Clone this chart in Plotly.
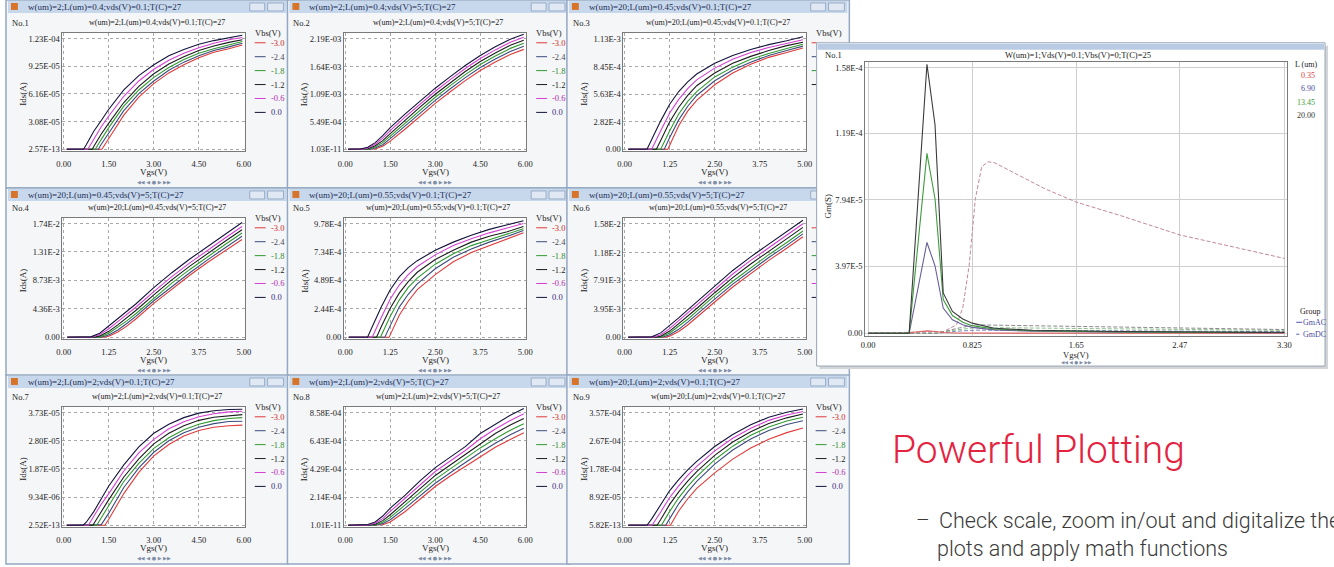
import plotly.graph_objects as go

W, H = 1334, 567
SERIF = "Liberation Serif"
SANS = "Liberation Sans"

# ---------------- data: 9 Ids-Vgs panels ----------------
vbs_labels = ["-3.0", "-2.4", "-1.8", "-1.2", "-0.6", "0.0"]
grid6 = [0.1, 0.5, 0.75, 1.0, 1.25, 1.5, 2.0, 2.5, 3.0, 3.5, 4.0, 4.5, 5.0, 5.5, 5.95]
grid5 = [0.1, 0.5, 0.75, 1.0, 1.25, 1.5, 1.75, 2.0, 2.5, 3.0, 3.5, 4.0, 4.5, 4.95]

p1_title = "w(um)=2;L(um)=0.4;vds(V)=0.1;T(C)=27"
p1_xticks = ["0.00", "1.50", "3.00", "4.50", "6.00"]
p1_yticks = ["2.57E-13", "3.08E-05", "6.16E-05", "9.25E-05", "1.23E-04"]
p1_unit = 1e-5
p1_vt = [1.27, 1.15, 1.05, 0.95, 0.80, 0.66]
p1_ids = [
    [0, 0, 0, 0, 0, 1.2, 3.8, 5.8, 7.3, 8.5, 9.4, 10.2, 10.8, 11.2, 11.6],
    [0, 0, 0, 0, 0.55, 1.8, 4.3, 6.2, 7.6, 8.8, 9.7, 10.4, 11.0, 11.4, 11.8],
    [0, 0, 0, 0, 1.1, 2.4, 4.8, 6.6, 8.0, 9.1, 10.0, 10.7, 11.2, 11.65, 12.0],
    [0, 0, 0, 0.3, 1.7, 2.9, 5.2, 7.0, 8.4, 9.5, 10.3, 11.0, 11.5, 11.9, 12.2],
    [0, 0, 0, 1.1, 2.5, 3.7, 5.9, 7.6, 8.9, 9.9, 10.7, 11.3, 11.8, 12.2, 12.45],
    [0, 0, 0.5, 2.0, 3.2, 4.45, 6.6, 8.2, 9.4, 10.4, 11.1, 11.7, 12.1, 12.45, 12.7],
]

p2_title = "w(um)=2;L(um)=0.4;vds(V)=5;T(C)=27"
p2_xticks = ["0.00", "1.50", "3.00", "4.50", "6.00"]
p2_yticks = ["1.03E-11", "5.49E-04", "1.09E-03", "1.64E-03", "2.19E-03"]
p2_unit = 1e-4
p2_vt = [0.95, 0.85, 0.75, 0.65, 0.55, 0.45]
p2_ids = [
    [0, 0, 0, 0.05, 0.6, 1.6, 4.0, 6.6, 9.1, 11.4, 13.6, 15.6, 17.3, 18.8, 19.8],
    [0, 0, 0, 0.25, 0.9, 2.1, 4.6, 7.2, 9.7, 12.0, 14.2, 16.2, 17.9, 19.4, 20.4],
    [0, 0, 0, 0.45, 1.3, 2.6, 5.2, 7.8, 10.3, 12.6, 14.8, 16.8, 18.5, 20.0, 21.0],
    [0, 0, 0.1, 0.7, 1.7, 3.1, 5.8, 8.4, 10.9, 13.2, 15.4, 17.4, 19.1, 20.6, 21.6],
    [0, 0, 0.25, 1.0, 2.2, 3.7, 6.4, 9.0, 11.5, 13.8, 16.0, 18.0, 19.7, 21.2, 22.2],
    [0, 0.05, 0.4, 1.3, 2.7, 4.3, 7.0, 9.6, 12.1, 14.4, 16.6, 18.6, 20.3, 21.8, 22.8],
]

p3_title = "w(um)=20;L(um)=0.45;vds(V)=0.1;T(C)=27"
p3_xticks = ["0.00", "1.25", "2.50", "3.75", "5.00"]
p3_yticks = ["0.00", "2.82E-4", "5.63E-4", "8.45E-4", "1.13E-3"]
p3_unit = 1e-4
p3_vt = [1.2, 1.1, 1.0, 0.88, 0.75, 0.62]
p3_ids = [
    [0, 0, 0, 0, 0.4, 2.4, 3.9, 5.0, 6.6, 7.8, 8.7, 9.4, 9.9, 10.35],
    [0, 0, 0, 0, 1.2, 3.0, 4.4, 5.5, 7.0, 8.1, 8.9, 9.6, 10.1, 10.55],
    [0, 0, 0, 0, 1.9, 3.6, 4.9, 5.9, 7.4, 8.4, 9.2, 9.8, 10.3, 10.75],
    [0, 0, 0, 0.9, 2.8, 4.3, 5.5, 6.5, 7.8, 8.8, 9.5, 10.1, 10.6, 10.95],
    [0, 0, 0, 1.9, 3.7, 5.1, 6.2, 7.1, 8.3, 9.2, 9.9, 10.4, 10.85, 11.2],
    [0, 0, 1.0, 2.9, 4.6, 5.9, 6.9, 7.7, 8.8, 9.6, 10.2, 10.7, 11.1, 11.5],
]

p4_title = "w(um)=20;L(um)=0.45;vds(V)=5;T(C)=27"
p4_xticks = ["0.00", "1.25", "2.50", "3.75", "5.00"]
p4_yticks = ["0.00", "4.36E-3", "8.73E-3", "1.31E-2", "1.74E-2"]
p4_unit = 1e-3
p4_vt = [1.1, 1.03, 0.95, 0.86, 0.77, 0.68]
p4_ids = [
    [0, 0, 0, 0, 0.15, 0.8, 1.7, 2.8, 5.2, 7.4, 9.5, 11.5, 13.3, 15.0],
    [0, 0, 0, 0, 0.35, 1.1, 2.1, 3.2, 5.6, 7.8, 9.9, 11.9, 13.8, 15.5],
    [0, 0, 0, 0.05, 0.6, 1.5, 2.5, 3.6, 6.0, 8.3, 10.4, 12.4, 14.3, 16.0],
    [0, 0, 0, 0.2, 0.9, 1.9, 3.0, 4.1, 6.5, 8.8, 10.9, 12.9, 14.8, 16.5],
    [0, 0, 0, 0.4, 1.3, 2.4, 3.5, 4.6, 7.0, 9.3, 11.4, 13.4, 15.3, 17.0],
    [0, 0, 0.05, 0.6, 1.7, 2.8, 4.0, 5.1, 7.6, 9.9, 12.0, 13.9, 15.8, 17.6],
]

p5_title = "w(um)=20;L(um)=0.55;vds(V)=0.1;T(C)=27"
p5_xticks = ["0.00", "1.25", "2.50", "3.75", "5.00"]
p5_yticks = ["0.00", "2.44E-4", "4.89E-4", "7.34E-4", "9.78E-4"]
p5_unit = 1e-4
p5_vt = [1.22, 1.1, 0.98, 0.87, 0.75, 0.62]
p5_ids = [
    [0, 0, 0, 0, 0.2, 1.9, 3.1, 4.1, 5.4, 6.5, 7.3, 7.9, 8.5, 9.0],
    [0, 0, 0, 0, 1.0, 2.6, 3.7, 4.6, 5.9, 6.9, 7.6, 8.2, 8.7, 9.2],
    [0, 0, 0, 0.15, 1.8, 3.2, 4.3, 5.1, 6.3, 7.2, 7.9, 8.4, 8.9, 9.35],
    [0, 0, 0, 0.9, 2.5, 3.8, 4.8, 5.6, 6.7, 7.5, 8.2, 8.7, 9.1, 9.55],
    [0, 0, 0, 1.7, 3.3, 4.5, 5.4, 6.1, 7.1, 7.9, 8.5, 9.0, 9.4, 9.8],
    [0, 0, 0.9, 2.6, 4.1, 5.2, 6.0, 6.6, 7.5, 8.2, 8.8, 9.3, 9.7, 10.05],
]

p6_title = "w(um)=20;L(um)=0.55;vds(V)=5;T(C)=27"
p6_xticks = ["0.00", "1.25", "2.50", "3.75", "5.00"]
p6_yticks = ["0.00", "3.95E-3", "7.91E-3", "1.18E-2", "1.58E-2"]
p6_unit = 1e-3
p6_vt = [1.12, 1.04, 0.96, 0.87, 0.78, 0.7]
p6_ids = [
    [0, 0, 0, 0, 0.15, 0.8, 1.7, 2.8, 4.9, 7.0, 8.9, 10.7, 12.4, 14.0],
    [0, 0, 0, 0, 0.35, 1.1, 2.1, 3.2, 5.3, 7.4, 9.3, 11.1, 12.8, 14.4],
    [0, 0, 0, 0.02, 0.6, 1.5, 2.5, 3.6, 5.8, 7.8, 9.7, 11.5, 13.2, 14.8],
    [0, 0, 0, 0.15, 0.85, 1.9, 2.9, 4.0, 6.2, 8.3, 10.2, 12.0, 13.7, 15.3],
    [0, 0, 0, 0.35, 1.2, 2.3, 3.4, 4.4, 6.7, 8.8, 10.7, 12.5, 14.2, 15.8],
    [0, 0, 0.05, 0.6, 1.6, 2.7, 3.8, 4.9, 7.2, 9.3, 11.2, 13.0, 14.7, 16.3],
]

p7_title = "w(um)=2;L(um)=2;vds(V)=0.1;T(C)=27"
p7_xticks = ["0.00", "1.50", "3.00", "4.50", "6.00"]
p7_yticks = ["2.52E-13", "9.34E-06", "1.87E-05", "2.80E-05", "3.73E-05"]
p7_unit = 1e-5
p7_vt = [1.37, 1.24, 1.1, 0.97, 0.82, 0.65]
p7_ids = [
    [0, 0, 0, 0, 0, 0.2, 1.05, 1.75, 2.3, 2.68, 2.96, 3.14, 3.25, 3.3, 3.32],
    [0, 0, 0, 0, 0.02, 0.4, 1.25, 1.9, 2.42, 2.8, 3.07, 3.25, 3.37, 3.44, 3.45],
    [0, 0, 0, 0, 0.25, 0.65, 1.45, 2.05, 2.55, 2.9, 3.17, 3.35, 3.47, 3.54, 3.57],
    [0, 0, 0, 0.05, 0.45, 0.85, 1.6, 2.2, 2.7, 3.05, 3.3, 3.48, 3.58, 3.64, 3.67],
    [0, 0, 0, 0.3, 0.7, 1.05, 1.8, 2.4, 2.85, 3.2, 3.43, 3.6, 3.7, 3.76, 3.78],
    [0, 0, 0.1, 0.45, 0.88, 1.3, 2.0, 2.6, 3.05, 3.35, 3.57, 3.72, 3.8, 3.84, 3.85],
]

p8_title = "w(um)=2;L(um)=2;vds(V)=5;T(C)=27"
p8_xticks = ["0.00", "1.50", "3.00", "4.50", "6.00"]
p8_yticks = ["1.01E-11", "2.14E-04", "4.29E-04", "6.43E-04", "8.58E-04"]
p8_unit = 1e-4
p8_vt = [1.12, 1.0, 0.88, 0.75, 0.62, 0.5]
p8_ids = [
    [0, 0, 0, 0, 0.04, 0.25, 1.05, 2.0, 2.95, 3.75, 4.5, 5.25, 5.95, 6.55, 7.05],
    [0, 0, 0, 0, 0.12, 0.42, 1.3, 2.25, 3.2, 4.0, 4.8, 5.55, 6.25, 6.9, 7.4],
    [0, 0, 0, 0.02, 0.22, 0.6, 1.55, 2.5, 3.5, 4.3, 5.1, 5.9, 6.6, 7.25, 7.75],
    [0, 0, 0, 0.07, 0.35, 0.8, 1.8, 2.8, 3.8, 4.6, 5.4, 6.25, 7.0, 7.65, 8.15],
    [0, 0, 0.02, 0.15, 0.5, 1.05, 2.05, 3.1, 4.1, 4.9, 5.7, 6.6, 7.35, 8.0, 8.5],
    [0, 0, 0.05, 0.25, 0.7, 1.3, 2.3, 3.4, 4.4, 5.2, 6.0, 7.0, 7.7, 8.4, 8.9],
]

p9_title = "w(um)=20;L(um)=2;vds(V)=0.1;T(C)=27"
p9_xticks = ["0.00", "1.25", "2.50", "3.75", "5.00"]
p9_yticks = ["5.82E-13", "8.92E-05", "1.78E-04", "2.67E-04", "3.57E-04"]
p9_unit = 1e-5
p9_vt = [1.27, 1.14, 1.02, 0.9, 0.76, 0.62]
p9_ids = [
    [0, 0, 0, 0, 0, 4.5, 8.4, 11.7, 16.6, 21.0, 24.5, 27.3, 29.4, 30.9],
    [0, 0, 0, 0, 2.1, 6.8, 10.6, 13.9, 19.4, 23.9, 27.4, 30.1, 32.0, 33.2],
    [0, 0, 0, 0, 4.4, 8.7, 12.3, 15.4, 20.8, 25.1, 28.6, 31.2, 33.1, 34.3],
    [0, 0, 0, 1.8, 6.6, 10.6, 14.0, 17.0, 22.2, 26.4, 29.7, 32.3, 34.1, 35.3],
    [0, 0, 0, 4.2, 8.8, 12.5, 15.8, 18.7, 23.6, 27.6, 30.8, 33.3, 35.0, 36.1],
    [0, 0, 2.0, 6.5, 11.0, 14.5, 17.6, 20.3, 25.0, 28.8, 31.9, 34.3, 35.9, 36.9],
]

# ---------------- data: Gm panel ----------------
gm_title = "W(um)=1;Vds(V)=0.1;Vbs(V)=0;T(C)=25"
gm_L = ["0.35", "6.90", "13.45", "20.00"]
gm_xticks = ["0.00", "0.825", "1.65", "2.47", "3.30"]
gm_yticks = ["0.00", "3.97E-5", "7.94E-5", "1.19E-4", "1.58E-4"]
gm_unit = 1e-5
gmac_x_035 = [0, 0.30, 0.36, 0.42, 0.47, 0.53, 0.6, 0.7, 3.3]
gmac_y_035 = [0, 0, 0.06, 0.12, 0.14, 0.1, 0.04, 0.01, 0.0]
gmac_x = [0, 0.325, 0.466, 0.53, 0.595, 0.668, 0.75, 0.825, 1.0, 1.3, 2.0, 3.3]
gmac_y_690 = [0, 0, 5.4, 4.0, 1.5, 0.8, 0.5, 0.35, 0.2, 0.12, 0.06, 0.03]
gmac_y_1345 = [0, 0, 10.7, 8.0, 2.0, 1.05, 0.65, 0.45, 0.25, 0.15, 0.08, 0.04]
gmac_y_2000 = [0, 0, 16.0, 12.4, 2.4, 1.3, 0.85, 0.6, 0.3, 0.18, 0.1, 0.05]
gmdc_x_035 = [0, 0.6, 0.7, 0.75, 0.8, 0.85, 0.9, 0.95, 1.0, 1.2, 1.4, 1.65, 2.0, 2.47, 3.0, 3.3]
gmdc_y_035 = [0, 0.1, 0.5, 1.5, 4.0, 8.0, 9.9, 10.2, 10.15, 9.35, 8.6, 7.8, 7.0, 5.85, 4.95, 4.45]
gmdc_x = [0, 0.55, 0.7, 0.85, 1.0, 1.65, 2.47, 3.3]
gmdc_y_690 = [0, 0, 0.12, 0.18, 0.18, 0.15, 0.12, 0.09]
gmdc_y_1345 = [0, 0, 0.2, 0.33, 0.33, 0.28, 0.22, 0.17]
gmdc_y_2000 = [0, 0, 0.28, 0.5, 0.48, 0.4, 0.3, 0.22]

# ---------------- styling ----------------
SER_COLORS = ["#e03a3a", "#3c4c7c", "#2f9a2f", "#1c1c1c", "#d43fd4", "#14143c"]
LEG_TEXT = ["#cc2a2a", "#4a4a5a", "#2f8a2f", "#1c1c1c", "#b02cb0", "#3a2a80"]
GM_COLORS = ["#e06060", "#6a5f9a", "#3d9a3d", "#3a3a3a"]
GMDC_COLORS = ["#c08898", "#7a86c0", "#8cc08c", "#8a8a8a"]
GM_TEXT = ["#d04040", "#4a4aa0", "#3a9a3a", "#333333"]

panels = [
    (p1_title, p1_xticks, p1_yticks, p1_unit, p1_vt, p1_ids, grid6),
    (p2_title, p2_xticks, p2_yticks, p2_unit, p2_vt, p2_ids, grid6),
    (p3_title, p3_xticks, p3_yticks, p3_unit, p3_vt, p3_ids, grid5),
    (p4_title, p4_xticks, p4_yticks, p4_unit, p4_vt, p4_ids, grid5),
    (p5_title, p5_xticks, p5_yticks, p5_unit, p5_vt, p5_ids, grid5),
    (p6_title, p6_xticks, p6_yticks, p6_unit, p6_vt, p6_ids, grid5),
    (p7_title, p7_xticks, p7_yticks, p7_unit, p7_vt, p7_ids, grid6),
    (p8_title, p8_xticks, p8_yticks, p8_unit, p8_vt, p8_ids, grid6),
    (p9_title, p9_xticks, p9_yticks, p9_unit, p9_vt, p9_ids, grid5),
]

COL_X = [0, 284, 566]
ROW_Y = [0, 189, 377]
ROW_TT = [39, 225, 415]
ROW_TB = [150, 339, 528]

shapes, anns, traces = [], [], []
layout_axes = {}


def px(x):
    return x / W


def py(y):
    return 1 - y / H


def rect(x0, y0, x1, y1, fill, line=None, lw=0, layer="below"):
    shapes.append(dict(type="rect", xref="paper", yref="paper", x0=px(x0), x1=px(x1),
                       y0=py(y1), y1=py(y0), fillcolor=fill,
                       line=dict(color=line or fill, width=lw), layer=layer))


def seg(x0, x1, y, color, width=1, dash="solid"):
    shapes.append(dict(type="line", xref="paper", yref="paper", x0=px(x0), x1=px(x1),
                       y0=py(y), y1=py(y), line=dict(color=color, width=width, dash=dash),
                       layer="below"))


def text(x, y, s, size=8.5, color="#222", xanchor="center", family=SERIF, angle=0, weight=None):
    f = dict(family=family, size=size, color=color)
    if weight:
        f["weight"] = weight
    anns.append(dict(x=px(x), y=py(y), xref="paper", yref="paper", text=s, showarrow=False,
                     xanchor=xanchor, yanchor="middle", font=f, textangle=angle))


def axis_style(grid_dash="dot", grid_color="#a8a8a8"):
    return dict(showgrid=True, gridcolor=grid_color, griddash=grid_dash, gridwidth=1,
                zeroline=False, showline=True, mirror=True, linecolor="#7a7a7a", linewidth=1,
                tickfont=dict(family=SERIF, size=8.5, color="#222"), fixedrange=True)


NAV = "◀◀ ◀ ● ▶ ▶▶"

# window frames first (in drawing order)
for i in range(9):
    r, c = divmod(i, 3)
    X0, Y0 = COL_X[c], ROW_Y[r]
    Y1 = Y0 + 189 if r < 2 else H
    rect(X0, Y0, X0 + 285, Y1, "#f5f6f8", "#93a8c2", 1.5)
    rect(X0 + 2, Y0 + 1, X0 + 283, Y0 + 13, "#c7d8ed")
    rect(X0 + 5, Y0 + 3, X0 + 12, Y0 + 10, "#d8742a")
    rect(X0 + 246, Y0 + 3, X0 + 261, Y0 + 11, "#dfe8f3", "#8da2bc", 0.8)
    rect(X0 + 264, Y0 + 3, X0 + 280, Y0 + 11, "#dfe8f3", "#8da2bc", 0.8)
    rect(X0 + 57, ROW_TT[r] - 6, X0 + 241, ROW_TB[r] + 2, "#ffffff")

for i, (title, xt, yt, unit, vts, ids, grid) in enumerate(panels):
    r, c = divmod(i, 3)
    X0, Y0 = COL_X[c], ROW_Y[r]
    TT, TB = ROW_TT[r], ROW_TB[r]
    k = i + 1
    sfx = "" if k == 1 else str(k)
    xv = [float(t) for t in xt]
    yv = [float(t) for t in yt]
    xmax = xv[-1]
    ymin, ymax = yv[0], yv[-1]
    span_px = TB - TT
    yr = [ymin - 2 / span_px * (ymax - ymin), ymax + 6 / span_px * (ymax - ymin)]
    xr = [-1.3 / 182 * xmax, xmax + 1 / 182 * xmax]
    xa = axis_style()
    xa.update(domain=[px(X0 + 57), px(X0 + 241)], range=xr, tickvals=xv, ticktext=xt,
              anchor="y" + sfx, ticks="outside", ticklen=5, tickcolor="rgba(0,0,0,0)")
    ya = axis_style()
    ya.update(domain=[py(TB + 2), py(TT - 6)], range=yr, tickvals=yv, ticktext=yt,
              anchor="x" + sfx, ticks="")
    layout_axes["xaxis" + sfx] = xa
    layout_axes["yaxis" + sfx] = ya
    for j in range(6):
        xs, ys = [], []
        done = False
        for g, v in zip(grid, ids[j]):
            if not done and g > vts[j]:
                xs.append(vts[j]); ys.append(0.0); done = True
            xs.append(g); ys.append(v * unit)
        traces.append(go.Scatter(x=xs, y=ys, mode="lines", xaxis="x" + sfx, yaxis="y" + sfx,
                                 line=dict(color=SER_COLORS[j], width=1.1), hoverinfo="skip",
                                 showlegend=False))
    # texts
    text(X0 + 20, Y0 + 7, title, size=9, color="#1f2f55", xanchor="left")
    text(X0 + 4, TT - 16, "No.%d" % k, xanchor="left")
    text(X0 + 152, TT - 16, title, size=8)
    text(X0 + 149, TB + 23, "Vgs(V)", size=9)
    text(X0 + 149, TB + 33, NAV, size=5, color="#7f8ea6", family="DejaVu Sans")
    text(X0 + 17, (TT + TB) / 2, "Ids(A)", size=9, angle=-90)
    if i != 5:
        text(X0 + 264, TT - 6, "Vbs(V)")
    if c < 2 or r == 2:
        for j in range(6):
            yy = TT + 4 + 14 * j
            seg(X0 + 251, X0 + 262, yy, SER_COLORS[j], 1)
            text(X0 + 265, yy, vbs_labels[j], color=LEG_TEXT[j], xanchor="left")
    else:
        for j in range(6 if r == 1 else 4):
            yy = TT + 4 + 14 * j
            if yy >= 43:
                seg(813, 818, yy, SER_COLORS[j], 1)

# ---------------- big Gm window ----------------
rect(821, 46, 1334, 371, "#d2d4d8")
rect(818, 43, 1331, 368, "#ffffff", "#98a4b4", 1)
rect(819, 44, 1330, 50, "#b9cbe3")
rect(867, 62, 1293, 338, "#ffffff")

gxv = [float(t) for t in gm_xticks]
gyv = [float(t) for t in gm_yticks]
gx_scale = (gxv[-1] - gxv[0]) / (1290 - 870)
gy_scale = (gyv[-1] - gyv[0]) / (335 - 68)
gxa = axis_style(grid_dash="solid", grid_color="#cfcfcf")
gxa.update(domain=[px(867), px(1293)], range=[-3 * gx_scale, gxv[-1] + 3 * gx_scale],
           tickvals=gxv, ticktext=gm_xticks, anchor="y10", ticks="outside", ticklen=1,
           tickcolor="rgba(0,0,0,0)")
gya = axis_style(grid_dash="solid", grid_color="#cfcfcf")
gya.update(domain=[py(338), py(62)], range=[-3 * gy_scale, gyv[-1] + 6 * gy_scale],
           tickvals=gyv, ticktext=gm_yticks, anchor="x10", ticks="")
layout_axes["xaxis10"] = gxa
layout_axes["yaxis10"] = gya

gm_ac = [(gmac_x_035, gmac_y_035), (gmac_x, gmac_y_690), (gmac_x, gmac_y_1345), (gmac_x, gmac_y_2000)]
gm_dc = [(gmdc_x_035, gmdc_y_035), (gmdc_x, gmdc_y_690), (gmdc_x, gmdc_y_1345), (gmdc_x, gmdc_y_2000)]
for j, (xs, ys) in enumerate(gm_dc):
    traces.append(go.Scatter(x=xs, y=[v * gm_unit for v in ys], mode="lines", xaxis="x10", yaxis="y10",
                             line=dict(color=GMDC_COLORS[j], width=1, dash="4px,2px"),
                             hoverinfo="skip", showlegend=False))
for j, (xs, ys) in enumerate(gm_ac):
    traces.append(go.Scatter(x=xs, y=[v * gm_unit for v in ys], mode="lines", xaxis="x10", yaxis="y10",
                             line=dict(color=GM_COLORS[j], width=1.1),
                             hoverinfo="skip", showlegend=False))

text(824, 55, "No.1", xanchor="left")
text(1082, 55, gm_title)
text(1080, 357, "Vgs(V)", size=8.5)
text(1080, 364, NAV, size=4.5, color="#7f8ea6", family="DejaVu Sans")
text(829, 207, "Gm(S)", size=9, angle=-90)
text(1312, 65, "L (um)", size=8)
for j, lab in enumerate(gm_L):
    text(1323, 76 + 13.4 * j, lab, size=8, color=GM_TEXT[j], xanchor="right")
text(1316, 313, "Group", size=8)
seg(1302, 1308, 324, "#4a5aa8", 1)
text(1307, 324, "GmAC", size=8, color="#4a4aa0", xanchor="left")
seg(1302, 1308, 336, "#4a5aa8", 1, "dot")
text(1307, 336, "GmDC", size=8, color="#4a4aa0", xanchor="left")

# ---------------- marketing text ----------------
text(892, 452, "Powerful Plotting", size=39, color="#e3233f", xanchor="left", family="Roboto", weight=300)
text(916, 523, "–", size=21, color="#3a3a3a", xanchor="left", family="Roboto", weight=300)
text(939, 523, "Check scale, zoom in/out and digitalize the", size=21.5, color="#3a3a3a",
     xanchor="left", family="Roboto", weight=300)
text(937, 551, "plots and apply math functions", size=21.5, color="#3a3a3a",
     xanchor="left", family="Roboto", weight=300)

fig = go.Figure(data=traces)
fig.update_layout(width=W, height=H, margin=dict(l=0, r=0, t=0, b=0), autosize=False,
                  paper_bgcolor="#ffffff", plot_bgcolor="rgba(0,0,0,0)", showlegend=False,
                  shapes=shapes, annotations=anns, **layout_axes)
fig.write_html("out.html", config={"displayModeBar": False, "staticPlot": True},
               post_script="document.body.style.margin='0px';document.body.style.overflow='hidden';")
